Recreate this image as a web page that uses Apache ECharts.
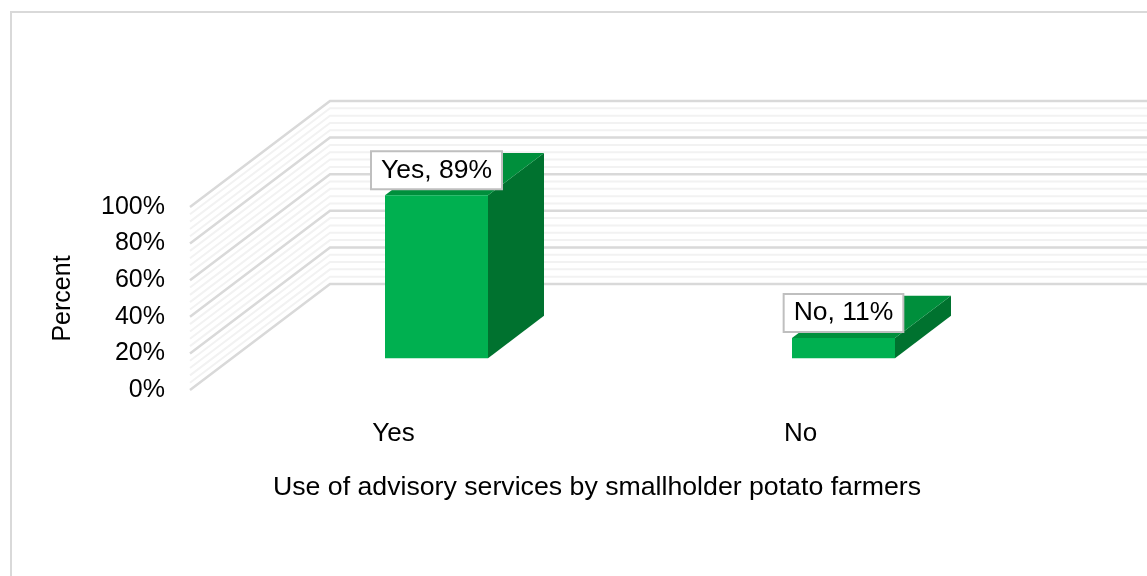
<!DOCTYPE html>
<html>
<head>
<meta charset="utf-8">
<script src="https://cdn.jsdelivr.net/npm/echarts@6/dist/echarts.min.js"></script>
<style>
  html, body { margin: 0; padding: 0; background: #fff; }
  #chart { width: 1147px; height: 576px; }
</style>
</head>
<body>
<div id="chart"></div>
<script>
const categories = ['Yes', 'No'];
const percentValues = [89, 11];
const yTicks = [0, 20, 40, 60, 80, 100];
const wallLines = [0, 4, 8, 12, 16, 20, 24, 28, 32, 36, 40, 44, 48, 52, 56, 60, 64, 68, 72, 76, 80, 84, 88, 92, 96, 100];

// depth of the 3D box in pixels, and where the bars sit inside it
const DX = 140, DY = -106;
const FRONT = 0.3, DEPTH = 0.4;
const LABEL_FONT = '26.5px "Liberation Sans", Arial, sans-serif';

const chart = echarts.init(document.getElementById('chart'));

function renderWall(params, api) {
    const v = api.value(1);
    const cs = params.coordSys;
    const y = api.coord([0, v])[1];
    const left = cs.x, right = cs.x + cs.width;
    const major = yTicks.indexOf(v) >= 0;
    return {
        type: 'polyline',
        z2: major ? 2 : 1,
        shape: { points: [[left, y], [left + DX, y + DY], [right + DX + 20, y + DY]] },
        style: {
            fill: null,
            stroke: major ? '#d9d9d9' : '#f2f2f2',
            lineWidth: major ? 2.5 : 2
        }
    };
}

function renderBar(params, api) {
    const idx = api.value(0);
    const val = api.value(1);
    const base = api.coord([idx, 0]);
    const top = api.coord([idx, val]);
    const w = 103;
    const fx = FRONT * DX + 1, fy = FRONT * DY;
    const bx = DEPTH * DX, by = DEPTH * DY;
    const x0 = base[0] - w / 2 + fx, x1 = x0 + w;
    const yb = base[1] + fy, yt = top[1] + fy;
    return {
        type: 'group',
        children: [
            {
                type: 'polygon',
                shape: { points: [[x1, yt], [x1 + bx, yt + by], [x1 + bx, yb + by], [x1, yb]] },
                style: { fill: '#00722f' }
            },
            {
                type: 'polygon',
                shape: { points: [[x0, yt], [x1, yt], [x1 + bx, yt + by], [x0 + bx, yt + by]] },
                style: { fill: '#008f3c' }
            },
            {
                type: 'rect',
                shape: { x: x0, y: yt, width: w, height: yb - yt },
                style: { fill: '#00b050' }
            },
            {
                type: 'text',
                z2: 10,
                style: {
                    text: categories[idx] + ', ' + val + '%',
                    x: (x0 + x1) / 2,
                    y: yt - 7,
                    align: 'center',
                    verticalAlign: 'bottom',
                    font: LABEL_FONT,
                    fill: '#000',
                    lineHeight: 28,
                    backgroundColor: '#fff',
                    borderColor: '#bfbfbf',
                    borderWidth: 2,
                    padding: [4, 9, 4, 9]
                }
            }
        ]
    };
}

chart.setOption({
    animation: false,
    backgroundColor: '#fff',
    graphic: [{
        type: 'rect',
        shape: { x: 11, y: 12, width: 1200, height: 600 },
        style: { fill: null, stroke: '#d9d9d9', lineWidth: 2 },
        silent: true
    }],
    grid: { left: 190, width: 814, top: 207, height: 183 },
    xAxis: {
        type: 'category',
        data: categories,
        axisLine: { show: false },
        axisTick: { show: false },
        axisLabel: { color: '#000', fontSize: 26, fontFamily: 'Liberation Sans', margin: 31 },
        name: 'Use of advisory services by smallholder potato farmers',
        nameLocation: 'middle',
        nameGap: 84,
        nameTextStyle: { color: '#000', fontSize: 26.7, fontFamily: 'Liberation Sans' }
    },
    yAxis: {
        type: 'value',
        min: 0,
        max: 100,
        interval: 20,
        axisLine: { show: false },
        axisTick: { show: false },
        splitLine: { show: false },
        axisLabel: { color: '#000', fontSize: 25, fontFamily: 'Liberation Sans', margin: 25, formatter: '{value}%' },
        name: 'Percent',
        nameLocation: 'middle',
        nameGap: 114,
        nameRotate: 90,
        nameTextStyle: { color: '#000', fontSize: 25, fontFamily: 'Liberation Sans' }
    },
    series: [
        {
            type: 'custom',
            renderItem: renderWall,
            data: wallLines.map(v => [0, v]),
            encode: { x: 0, y: 1 },
            silent: true,
            z: 1
        },
        {
            type: 'custom',
            renderItem: renderBar,
            data: percentValues.map((v, i) => [i, v]),
            encode: { x: 0, y: 1 },
            z: 5
        }
    ]
});
</script>
</body>
</html>
